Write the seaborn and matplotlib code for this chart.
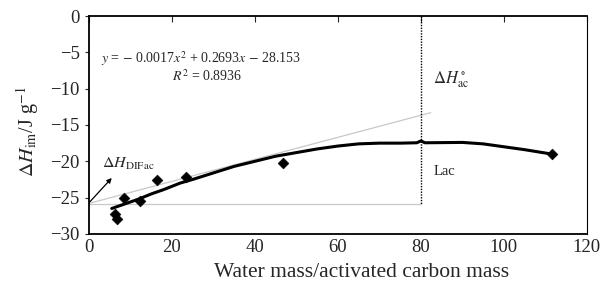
import matplotlib
matplotlib.use("Agg")
import matplotlib.pyplot as plt
import seaborn as sns
import pandas as pd

# measured points (diamonds)
pt_x = [6.3, 6.8, 8.4, 12.3, 16.3, 23.4, 46.7, 111.5]
pt_y = [-27.3, -27.9, -25.1, -25.5, -22.6, -22.1, -20.2, -19.0]

# fitted trend curve
fit_x = [5.5, 8, 10, 12, 15, 18, 22, 25, 30, 35, 40, 45, 50, 55, 60, 65, 70, 75,
         79, 80, 81, 90, 95, 100, 105, 111.5]
fit_y = [-26.5, -26.0, -25.6, -25.2, -24.5, -23.9, -23.0, -22.5, -21.6, -20.7,
         -20.0, -19.3, -18.8, -18.3, -17.9, -17.6, -17.5, -17.5, -17.45, -17.2,
         -17.45, -17.4, -17.6, -18.0, -18.4, -19.0]

# construction lines
tangent_x = [0, 82.4]
tangent_y = [-25.8, -13.3]
base_x = [0, 80]
base_y = [-25.9, -25.9]
lac_x = [80, 80]
lac_y = [0, -25.9]

x_ticks = [0, 20, 40, 60, 80, 100, 120]
y_ticks = [0, -5, -10, -15, -20, -25, -30]

sns.set_style("ticks")
plt.rcParams['font.family'] = ['Liberation Serif', 'DejaVu Serif']
plt.rcParams['mathtext.fontset'] = 'stix'

fig = plt.figure(figsize=(6.05, 2.87), dpi=100)
ax = fig.add_axes([0.147, 0.185, 0.823, 0.759])

sns.lineplot(x=tangent_x, y=tangent_y, ax=ax, color="#c8c8c8", lw=0.9, sort=False)
sns.lineplot(x=base_x, y=base_y, ax=ax, color="#c8c8c8", lw=0.9, sort=False)
ax.plot(lac_x, lac_y, color="black", lw=1.0, linestyle=(0, (1, 1)))
sns.lineplot(data=pd.DataFrame({"x": fit_x, "y": fit_y}), x="x", y="y", ax=ax,
             color="black", lw=2.2, sort=False)
sns.scatterplot(x=pt_x, y=pt_y, ax=ax, marker="D", s=30, color="black",
                edgecolor="black", zorder=5)

ax.annotate("", xy=(5.5, -22.3), xytext=(0.2, -25.6),
            arrowprops=dict(arrowstyle="-|>", color="black", lw=0.9,
                            mutation_scale=7, shrinkA=0, shrinkB=0))

ax.text(3.2, -20.3, r'$\Delta H_{\rm DIFac}$', fontsize=11.5, va="center")
ax.text(83, -8.7, r'$\Delta H^\circ_{\rm ac}$', fontsize=12, va="center")
ax.text(83, -21.4, "Lac", fontsize=10.5, va="center")
ax.text(27, -5.8, r'$y$ = $-$ 0.0017$x^2$ + 0.2693$x$ $-$ 28.153',
        fontsize=10, ha="center", va="center")
ax.text(28.5, -8.3, r'$R^2$ = 0.8936', fontsize=10, ha="center", va="center")

ax.set_xlim(0, 120)
ax.set_ylim(-30, 0)
ax.set_xticks(x_ticks)
ax.set_yticks(y_ticks)
ax.set_yticklabels([str(v).replace("-", "\u2212") for v in y_ticks])
ax.tick_params(axis="x", top=True, bottom=False, direction="in", length=4,
               labelsize=13.5, width=0.8)
ax.tick_params(axis="y", direction="out", length=3, labelsize=13.5, width=0.8)

for side in ["left", "top", "bottom"]:
    ax.spines[side].set_linewidth(1.3)
ax.spines["right"].set_linewidth(0.8)
for s in ax.spines.values():
    s.set_visible(True)
    s.set_color("black")

ax.set_xlabel("Water mass/activated carbon mass", fontsize=15.5)
ax.set_ylabel(r'$\Delta H_{\rm im}$/J g$^{-1}$', fontsize=14.5)
ax.xaxis.set_label_coords(0.548, -0.135)
ax.yaxis.set_label_coords(-0.097, 0.47)

fig.savefig("out.png", dpi=100)
